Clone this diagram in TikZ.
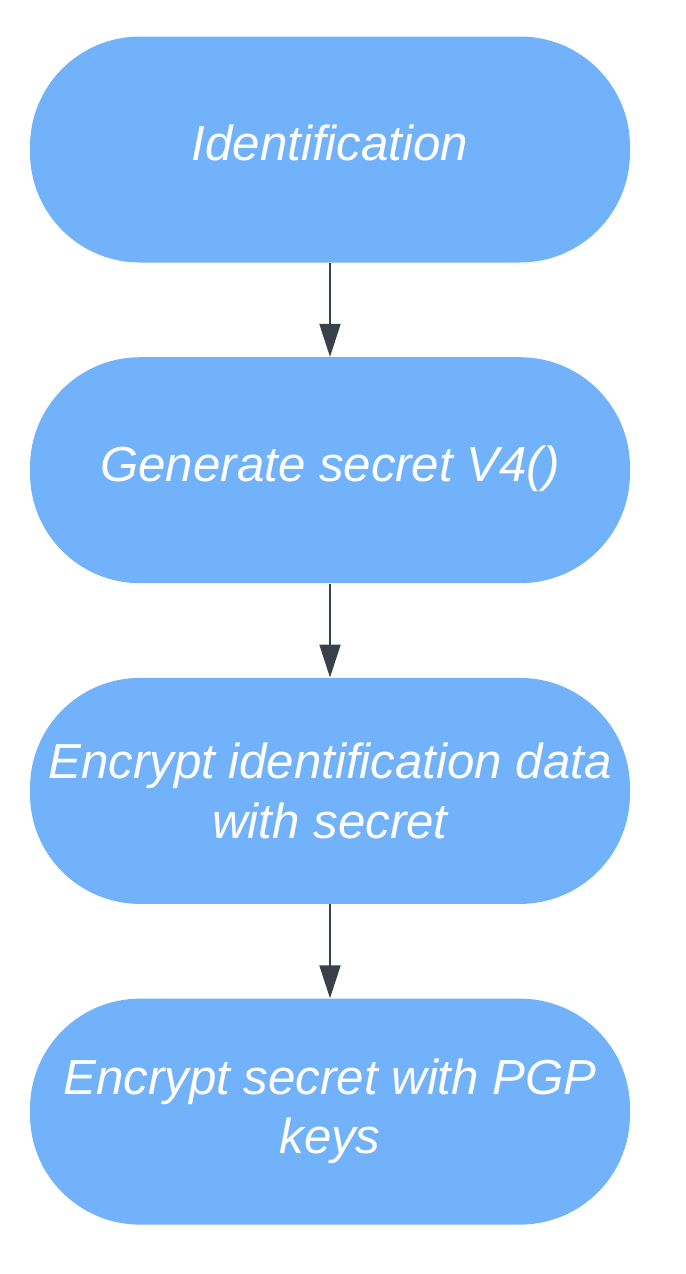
\documentclass[tikz,border=0pt]{standalone}
\usepackage{fontspec}
\setmainfont{Liberation Sans}
\usepackage{tikz}
\usetikzlibrary{arrows.meta,positioning}
\definecolor{stepblue}{RGB}{113,178,251}
\definecolor{linkgray}{RGB}{58,64,72}

\begin{document}
\begin{tikzpicture}[
    node distance=1.88cm,
    stepbox/.style={fill=stepblue, rounded corners=2.2cm, minimum width=12cm, minimum height=4.52cm, inner sep=0pt, align=center, text=white, font=\fontsize{28}{33.6}\selectfont\itshape},
    oneline/.style={text height=0.7cm, text depth=0.26cm},
    arrow/.style={-{Triangle[length=0.66cm, width=0.42cm]}, draw=linkgray, fill=linkgray, line width=1.1pt}
]
\useasboundingbox (0,0) rectangle (13.72,-25.48);

% ---- Steps ----
\node[stepbox, oneline] (ident) at (6.6,-2.99) {Identification};
\node[stepbox, oneline, below=of ident] (gensecret) {Generate secret V4()};
\node[stepbox, below=of gensecret] (encdata) {Encrypt identification data\\with secret};
\node[stepbox, below=of encdata] (encsecret) {Encrypt secret with PGP\\keys};

% ---- Flow ----
\draw[arrow] (ident.south) -- (gensecret.north);
\draw[arrow] (gensecret.south) -- (encdata.north);
\draw[arrow] (encdata.south) -- (encsecret.north);

\end{tikzpicture}
\end{document}
